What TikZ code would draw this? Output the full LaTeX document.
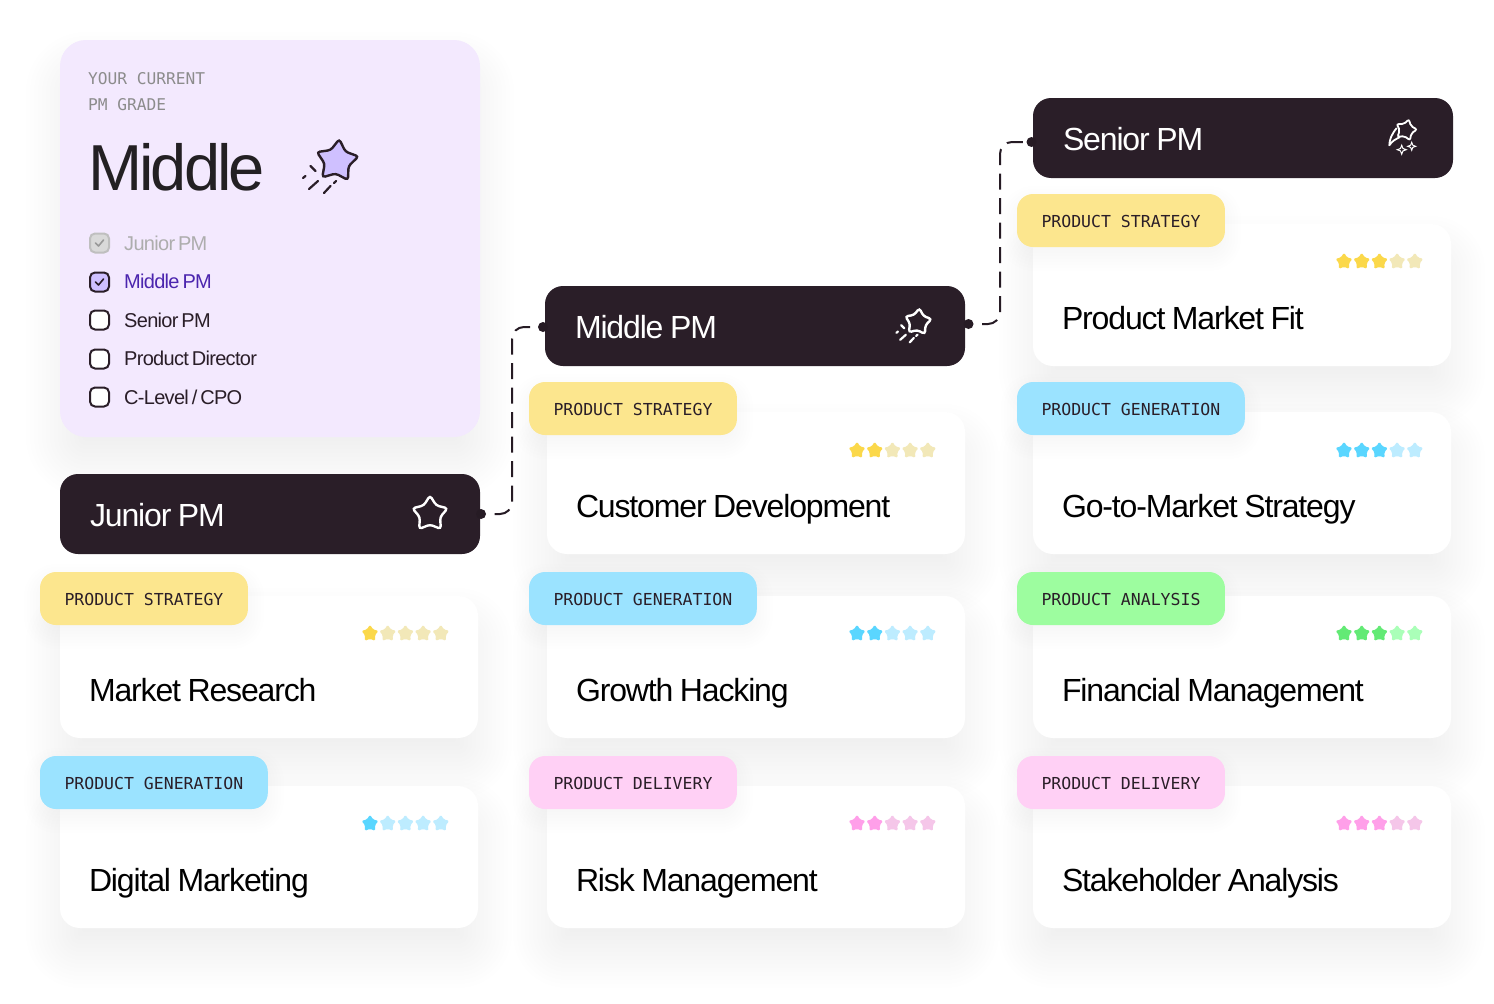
\documentclass[tikz,border=0pt]{standalone}
\usepackage{fontspec}
\usepackage{tikz}
\usetikzlibrary{calc,positioning,shapes.geometric,backgrounds}

\setmainfont{Liberation Sans}
\setmonofont{DejaVu Sans Mono}
\newfontfamily\headfont[LetterSpace=-3.6,WordSpace=0.85]{Liberation Sans}
\newfontfamily\listfont[LetterSpace=-3.5,WordSpace=0.6]{Liberation Sans}
\newfontfamily\bigfont[LetterSpace=-4.6]{Liberation Sans}

\pgfdeclarelayer{front}
\pgfsetlayers{background,main,front}

\definecolor{barink}{HTML}{2A1E28}
\definecolor{textink}{HTML}{232023}
\definecolor{gradebg}{HTML}{F3E9FE}
\definecolor{lilac}{HTML}{CFC0FF}
\definecolor{violettext}{HTML}{4B25AE}
\definecolor{stratbg}{HTML}{FCE68E}
\definecolor{genbg}{HTML}{9BE3FF}
\definecolor{anabg}{HTML}{9DFD9F}
\definecolor{delbg}{HTML}{FFD0F5}
\definecolor{stratoff}{HTML}{F2E8B8}
\definecolor{stratarr}{HTML}{FBD84A}
\definecolor{genoff}{HTML}{BDECFF}
\definecolor{genon}{HTML}{5AD6FF}
\definecolor{anaoff}{HTML}{AAFFB8}
\definecolor{anaon}{HTML}{63EA75}
\definecolor{deloff}{HTML}{F5C6E9}
\definecolor{delon}{HTML}{FF9FE9}

% name, x, y, stars on, colour on, colour off
\newcommand\rating[6]{%
	\foreach \s in {1,...,5} {
		\ifnum\s>#4 \def\starcol{#6}\else\def\starcol{#5}\fi
		\node (#1\s) at ({#2+(\s-1)*17.7},#3+0.6) [ratestar, fill=\starcol] {};
	}
}

% name, x, y, star size, stroke, fill
\newcommand\cometicon[6]{%
	\node (#1) at (#2,#3) [iconstar, minimum size=#4pt, draw=#5, fill=#6, rotate=-6] {};
	\begin{scope}[shift={(#2,#3)}, scale=#4/44, draw=#5, line width=2.2pt, line cap=round]
		\draw (-26.5,5) -- (-21.5,10);
		\draw (-34,17) -- (-31.5,15);
		\draw (-28,28) -- (-19,20);
		\draw (-13,32) -- (-6.5,25);
		\draw (-3,22) -- (-0.8,20);
	\end{scope}
}

% node, corner radius, drop, first spread, spread step, last spread
\newcommand\softshadow[6]{%
	\foreach \e in {#4,#5,...,#6} {
		\pgfmathsetmacro\rad{max(#2+\e,2)}
		\fill [black, opacity=.005, rounded corners=\rad pt]
			($(#1.north west)+(-\e,#3-\e)$) rectangle ($(#1.south east)+(\e,#3+\e)$);
	}
}

\begin{document}
\begin{tikzpicture}
[
	              x = 1pt,
	              y = -1pt,
	  node distance = 14pt,
	      base/.style = { anchor=north west, inner ysep=0pt, outer sep=0pt },
	   gradebox/.style = { base, fill=gradebg, rounded corners=26pt, minimum width=420pt, minimum height=397pt },
	       card/.style = { base, fill=white, rounded corners=20pt, minimum width=418pt, minimum height=142pt, inner xsep=29pt,
	                       text width=360pt, align=flush left, text height=69pt, text depth=0pt, text=black, font=\headfont\fontsize{32}{36}\selectfont },
	        bar/.style = { base, fill=barink, text=white, rounded corners=18pt, minimum width=420pt, minimum height=80pt, inner xsep=30pt,
	                       text width=360pt, align=flush left, text height=25pt, text depth=0pt, font=\headfont\fontsize{32}{36}\selectfont },
	        tag/.style = { base, rounded corners=16pt, minimum height=53pt, inner xsep=24.5pt, text=barink, text height=13pt, text depth=0pt,
	                       font=\ttfamily\fontsize{16.5}{18}\selectfont },
	   ratestar/.style = { star, star points=5, star point ratio=1.75, minimum size=18pt, inner sep=0pt, rounded corners=1.5pt },
	   iconstar/.style = { star, star points=5, star point ratio=1.75, inner sep=0pt, line width=2.4pt, rounded corners=3pt },
	    tinystar/.style = { star, star points=4, star point ratio=2.6, inner sep=0pt, draw=white, line width=1pt },
	     gradetop/.style = { anchor=base west, inner sep=0pt, text=black!45, font=\ttfamily\fontsize{16.2}{18}\selectfont },
	      checkbox/.style = { draw=barink, fill=white, line width=2pt, rounded corners=5pt, minimum size=19pt, inner sep=0pt },
	    checklabel/.style = { anchor=base west, inner sep=0pt, text=barink, font=\listfont\fontsize{20}{22}\selectfont },
	        tick/.style = { line width=1.6pt, line cap=round, line join=round },
	        dot/.style = { circle, fill=barink!90!black, minimum size=10pt, inner sep=0pt },
	       link/.style = { draw=barink!90!black, line width=2pt, dash pattern=on 16pt off 8.5pt, dash phase=16pt, rounded corners=12pt }
]
	\useasboundingbox (0,0) rectangle (1494,1004);

	% grade panel
	\node (grade) at (60,40) [gradebox] {};
	\node (top1) at (88,84)  [gradetop] {YOUR CURRENT};
	\node (top2) at (88,110) [gradetop] {PM GRADE};
	\node (head) at (88,190) [anchor=base west, inner sep=0pt, text=textink,
		font=\bigfont\fontsize{65}{70}\selectfont] {Middle};
	\cometicon{headstar}{337}{161}{44}{barink}{lilac}

	% checklist
	\node (cbA) at (99.5,243) [checkbox, draw=black!25, fill=black!15] {};
	\node (cbB) at (99.5,282) [checkbox, fill=lilac] {};
	\node (cbC) at (99.5,320) [checkbox] {};
	\node (cbD) at (99.5,359) [checkbox] {};
	\node (cbE) at (99.5,397) [checkbox] {};
	\draw [tick, draw=black!40] ($(cbA)+(-4,0)$) -- ($(cbA)+(-1,3)$) -- ($(cbA)+(4,-3)$);
	\draw [tick, draw=barink]   ($(cbB)+(-4,0)$) -- ($(cbB)+(-1,3)$) -- ($(cbB)+(4,-3)$);
	\node (lbA) at (124,250) [checklabel, text=black!32] {Junior PM};
	\node (lbB) at (124,288) [checklabel, text=violettext] {Middle PM};
	\node (lbC) at (124,327) [checklabel] {Senior PM};
	\node (lbD) at (124,365) [checklabel] {Product Director};
	\node (lbE) at (124,404) [checklabel] {C-Level / CPO};

	% cards
	\node (pmf)  at (1033,224) [card] {Product Market Fit};
	\node (cdev) at (547,412)  [card] {Customer Development};
	\node (gtm)  at (1033,412) [card] {Go-to-Market Strategy};
	\node (mres) at (60,596)   [card] {Market Research};
	\node (grow) at (547,596)  [card] {Growth Hacking};
	\node (fin)  at (1033,596) [card] {Financial Management};
	\node (dmk)  at (60,786)   [card] {Digital Marketing};
	\node (risk) at (547,786)  [card] {Risk Management};
	\node (stak) at (1033,786) [card] {Stakeholder Analysis};

	% tags
	\begin{pgfonlayer}{front}
		\node (tpmf)  at (1017,194) [tag, fill=stratbg] {PRODUCT STRATEGY};
		\node (tcdev) at (529,382)  [tag, fill=stratbg] {PRODUCT STRATEGY};
		\node (tgtm)  at (1017,382) [tag, fill=genbg]   {PRODUCT GENERATION};
		\node (tmres) at (40,572)   [tag, fill=stratbg] {PRODUCT STRATEGY};
		\node (tgrow) at (529,572)  [tag, fill=genbg]   {PRODUCT GENERATION};
		\node (tfin)  at (1017,572) [tag, fill=anabg]   {PRODUCT ANALYSIS};
		\node (tdmk)  at (40,756)   [tag, fill=genbg]   {PRODUCT GENERATION};
		\node (trisk) at (529,756)  [tag, fill=delbg]   {PRODUCT DELIVERY};
		\node (tstak) at (1017,756) [tag, fill=delbg]   {PRODUCT DELIVERY};
	\end{pgfonlayer}

	% shadows
	\begin{scope}[on background layer]
		\softshadow{grade}{26}{26}{-26}{-22}{34}
		\foreach \c in {pmf,cdev,gtm,mres,grow,fin,dmk,risk,stak} {
			\softshadow{\c}{20}{26}{-26}{-22}{34}
		}
	\end{scope}
	\foreach \c in {tpmf,tcdev,tgtm,tmres,tgrow,tfin,tdmk,trisk,tstak} {
		\softshadow{\c}{16}{8}{-8}{-5}{16}
	}

	% ratings
	\rating{rpmf}{1344}{261}{3}{stratarr}{stratoff}
	\rating{rcdev}{857}{450}{2}{stratarr}{stratoff}
	\rating{rgtm}{1344}{450}{3}{genon}{genoff}
	\rating{rmres}{370}{633}{1}{stratarr}{stratoff}
	\rating{rgrow}{857}{633}{2}{genon}{genoff}
	\rating{rfin}{1344}{633}{3}{anaon}{anaoff}
	\rating{rdmk}{370}{823}{1}{genon}{genoff}
	\rating{rrisk}{857}{823}{2}{delon}{deloff}
	\rating{rstak}{1344}{823}{3}{delon}{deloff}

	% grade bars
	\node (junior) at (60,474)  [bar] {Junior PM};
	\node (middle) at (545,286) [bar] {Middle PM};
	\node (senior) at (1033,98) [bar] {Senior PM};

	% bar icons
	\node (jstar) at (430,514) [iconstar, minimum size=37pt, draw=white, fill=barink] {};
	\cometicon{mstar}{918}{322}{28}{white}{barink}
	\node (sstar) at (1406,130) [iconstar, minimum size=22pt, draw=white, fill=barink, line width=1.8pt, rotate=-15, rounded corners=2pt] {};
	\node (sspa) at (1401.7,149.7) [tinystar, minimum size=9pt] {};
	\node (sspb) at (1411.7,146.3) [tinystar, minimum size=8pt] {};
	\coordinate (stail) at (1389.3,145.3);
	\draw [draw=white, line width=1.8pt, line join=round] (1396.7,128) .. controls (1391,135) and (1389.5,140) .. (stail)
		.. controls (1392,141) and (1396,139) .. (1400,137);

	% connectors
	\node (dotJ) at (481,514)  [dot] {};
	\node (dotM) at (543,327)  [dot] {};
	\node (dotN) at (968.5,324) [dot] {};
	\node (dotS) at (1031.5,142) [dot] {};
	\coordinate (railA) at (512,420);
	\coordinate (railB) at (1000,230);
	\draw [link] (dotJ) -- (dotJ -| railA) -- (dotM -| railA) -- (dotM);
	\draw [link] (dotN) -- (dotN -| railB) -- (dotS -| railB) -- (dotS);
\end{tikzpicture}
\end{document}
